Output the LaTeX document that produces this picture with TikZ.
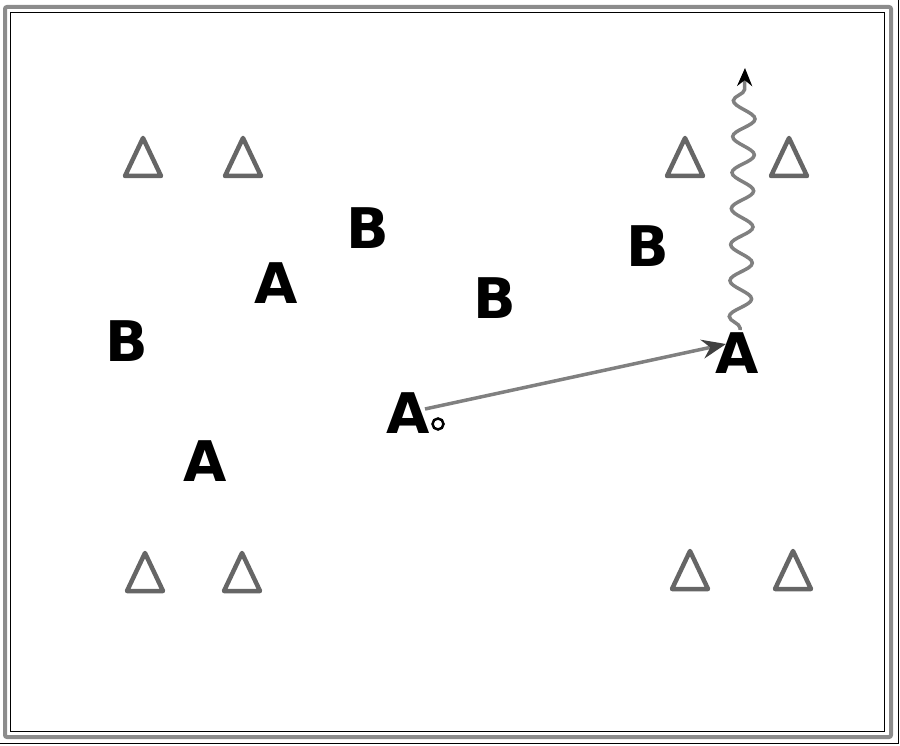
\documentclass[tikz,border=0pt]{standalone}
\usepackage{fontspec}
\setmainfont{DejaVu Sans}
\usetikzlibrary{arrows.meta,decorations.pathmorphing}
\tikzset{
  letter/.style={font=\fontsize{56}{56}\selectfont\bfseries, inner sep=0pt, anchor=base},
  cone/.style={draw=black!60, line width=4.5pt, line join=round},
  move/.style={draw=black!50, line width=3.5pt, -{Stealth[black!75,length=24pt,width=19pt,inset=8pt]}},
  dribble/.style={draw=black!50, line width=3.5pt, -{Stealth[black,length=18pt,width=15pt]},
    decorate, decoration={snake, segment length=36pt, amplitude=11pt, post length=14pt, pre length=2pt}},
}
\begin{document}
\begin{tikzpicture}[x=1pt,y=-1pt]
\useasboundingbox (0,0) rectangle (900,746);
% frames
\draw[black!45, line width=4pt, rounded corners=2pt] (5,7) rectangle (891,737);
\draw[line width=1pt] (10,13) rectangle (884,731);
\draw[line width=0.8pt] (0,743) -- (898,743) -- (898,0);
% cones
\foreach \cx/\cy in {143/138, 243/138, 685/138, 789/138, 145/553, 242/553, 690/551, 793/551}{
  \draw[cone] (\cx,\cy) -- (\cx+18,\cy+38) -- (\cx-18,\cy+38) -- cycle;
}
% players
\node[letter] (b1) at (368,249) {B};
\node[letter] (a1) at (276,304) {A};
\node[letter] (b2) at (495,319) {B};
\node[letter] (b3) at (648,267) {B};
\node[letter] (b4) at (127,361) {B};
\node[letter] (a2) at (205,481) {A};
\node[letter] (a3) at (408,433) {A};
\node[letter] (a4) at (737,373) {A};
% ball
\node[circle, draw=black, line width=2.5pt, fill=white, minimum size=11pt, inner sep=0pt] (ball) at (438,424) {};
% connectors
\coordinate (s1) at (425,409);
\coordinate (e1) at (726,344);
\draw[move] (s1) -- (e1);
\coordinate (s2) at (740,330);
\coordinate (e2) at (745,68);
\draw[dribble] (s2) -- (e2);
\end{tikzpicture}
\end{document}
